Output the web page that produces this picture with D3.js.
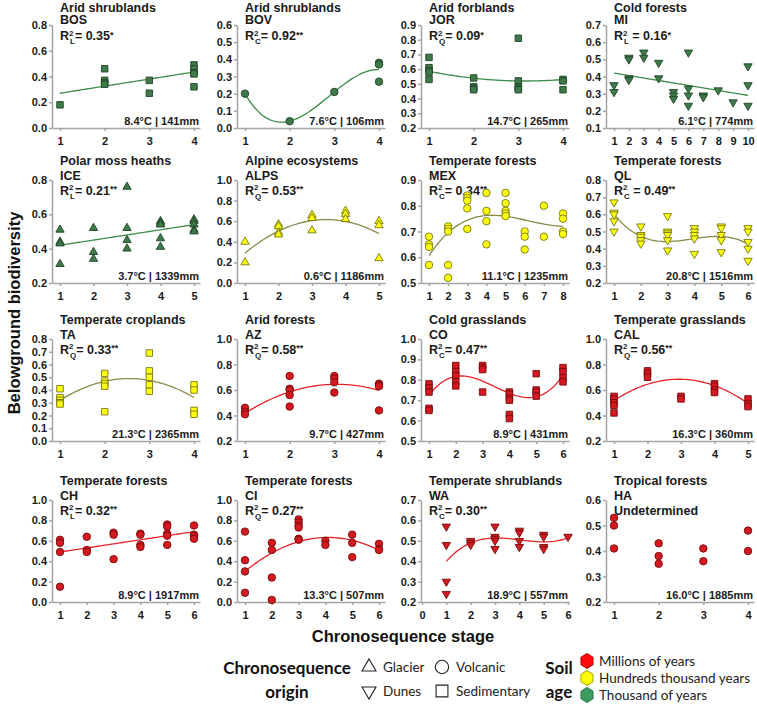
<!DOCTYPE html>
<html><head><meta charset="utf-8">
<script src="https://cdn.jsdelivr.net/npm/d3@7"></script>
<style>
body{margin:0;background:#fff}
svg{display:block}
.ax text{font-family:"Liberation Sans",Arial,sans-serif;font-weight:bold;font-size:11px;fill:#1a1a1a}
.ax path,.ax line{stroke:#a3a3a3;stroke-width:1.5}
.ttl{font-family:"Liberation Sans",Arial,sans-serif;font-weight:bold;font-size:12.5px;fill:#1a1a1a}
.clim{font-family:"Liberation Sans",Arial,sans-serif;font-weight:bold;font-size:11px;fill:#1a1a1a}
.big{font-family:"Liberation Sans",Arial,sans-serif;font-weight:bold;font-size:16.5px;fill:#111}
.lg{font-family:Lato,"Open Sans",sans-serif;font-size:13.5px;fill:#222}
.lgb{font-family:Lato,"Open Sans",sans-serif;font-weight:bold;font-size:17px;fill:#111}
</style>
</head><body>
<svg id="chart" width="757" height="708"></svg>
<script>
// ---------------- DATA ----------------
const panelCodes  = ["BOS","BOV","JOR","MI","ICE","ALPS","MEX","QL","TA","AZ","CO","CAL","CH","CI","WA","HA"];
const panelBiomes = ["Arid shrublands","Arid shrublands","Arid forblands","Cold forests",
  "Polar moss heaths","Alpine ecosystems","Temperate forests","Temperate forests",
  "Temperate croplands","Arid forests","Cold grasslands","Temperate grasslands",
  "Temperate forests","Temperate forests","Temperate shrublands","Tropical forests"];
const panelClimate = ["8.4°C | 141mm","7.6°C | 106mm","14.7°C | 265mm","6.1°C | 774mm",
  "3.7°C | 1339mm","0.6°C | 1186mm","11.1°C | 1235mm","20.8°C | 1516mm",
  "21.3°C | 2365mm","9.7°C | 427mm","8.9°C | 431mm","16.3°C | 360mm",
  "8.9°C | 1917mm","13.3°C | 507mm","18.9°C | 557mm","16.0°C | 1885mm"];
const fitType  = ["L","C","Q","L","L","Q","C","C","Q","Q","C","Q","L","Q","C",null];
const r2Text   = ["= 0.35","= 0.92","= 0.09"," = 0.16","= 0.21","= 0.53","= 0.34"," = 0.49",
  "= 0.33","= 0.58","= 0.47","= 0.56","= 0.32","= 0.27","= 0.30",null];
const r2Stars  = ["*","**","*","*","**","**","**","**","**","**","**","**","**","**","**",null];
const origin   = ["Sedimentary","Volcanic","Sedimentary","Dunes","Glacier","Glacier","Volcanic","Dunes",
  "Sedimentary","Volcanic","Sedimentary","Sedimentary","Volcanic","Volcanic","Dunes","Volcanic"];
const soilAge  = ["Thousand","Thousand","Thousand","Thousand","Thousand","Hundreds","Hundreds","Hundreds",
  "Hundreds","Millions","Millions","Millions","Millions","Millions","Millions","Millions"];

const xTicks = [[1,2,3,4],[1,2,3,4],[1,2,3,4],[1,2,3,4,5,6,7,8,9,10],
  [1,2,3,4,5],[1,2,3,4,5],[1,2,3,4,5,6,7,8],[1,2,3,4,5,6],
  [1,2,3,4],[1,2,3,4],[1,2,3,4,5,6],[1,2,3,4,5],
  [1,2,3,4,5,6],[1,2,3,4,5,6],[0,1,2,3,4,5,6],[1,2,3,4]];
const yTicks = [[0,0.2,0.4,0.6,0.8],[0,0.1,0.2,0.3,0.4,0.5,0.6],[0.2,0.3,0.4,0.5,0.6,0.7,0.8,0.9],[0.1,0.2,0.3,0.4,0.5,0.6,0.7],
  [0.2,0.4,0.6,0.8],[0,0.2,0.4,0.6,0.8,1.0],[0.5,0.6,0.7,0.8,0.9],[0.2,0.3,0.4,0.5,0.6,0.7,0.8],
  [0,0.1,0.2,0.3,0.4,0.5,0.6,0.7,0.8],[0.2,0.4,0.6,0.8,1.0],[0.5,0.6,0.7,0.8,0.9,1.0],[0.2,0.4,0.6,0.8,1.0],
  [0,0.2,0.4,0.6,0.8,1.0],[0,0.2,0.4,0.6,0.8,1.0],[0.2,0.3,0.4,0.5,0.6,0.7],[0.2,0.3,0.4,0.5,0.6]];

// values per chronosequence stage (stage 1, 2, ...)
const valsBOS  = [[0.18],[0.46,0.37,0.35,0.34],[0.37,0.27],[0.49,0.46,0.43,0.42,0.32]];
const valsBOV  = [[0.20],[0.04],[0.21],[0.38,0.37,0.27]];
const valsJOR  = [[0.68,0.61,0.59,0.58,0.53],[0.54,0.48,0.47,0.46],[0.81,0.52,0.48,0.47,0.46],[0.53,0.52,0.46]];
const valsMI   = [[0.35,0.31],[0.51,0.50,0.39,0.38],[0.54,0.51],[0.48,0.39],[0.31,0.29,0.27],
  [0.54,0.33,0.29,0.23],[0.29,0.28],[0.32],[0.25],[0.46,0.35,0.23]];
const valsICE  = [[0.51,0.44,0.43,0.31],[0.52,0.38,0.34],[0.76,0.52,0.45,0.40],[0.56,0.55,0.54,0.46,0.41],[0.57,0.56,0.54,0.51,0.50]];
const valsALPS = [[0.40,0.20],[0.57,0.55,0.49,0.47],[0.66,0.63,0.51],[0.70,0.67,0.62],[0.60,0.56,0.24]];
const valsMEX  = [[0.68,0.65,0.64,0.57],[0.72,0.71,0.70,0.57,0.52],[0.84,0.83,0.82,0.79,0.71],[0.85,0.78,0.74,0.65],
  [0.85,0.81,0.78,0.77,0.76],[0.70,0.68,0.63],[0.80,0.68],[0.77,0.75,0.70,0.69]];
const valsQL   = [[0.67,0.61,0.60,0.56,0.50],[0.53,0.48,0.47,0.45,0.43],[0.59,0.50,0.49,0.48,0.45,0.39],
  [0.52,0.50,0.48,0.46,0.37],[0.53,0.52,0.48,0.45,0.38],[0.52,0.50,0.44,0.40,0.33]];
const valsTA   = [[0.41,0.34,0.32,0.30,0.29],[0.53,0.47,0.45,0.43,0.23],[0.69,0.55,0.50,0.44,0.39],[0.44,0.40,0.24,0.21]];
const valsAZ   = [[0.46,0.43,0.41],[0.71,0.61,0.60,0.56,0.47],[0.71,0.69,0.66,0.58],[0.65,0.64,0.63,0.44]];
const valsCO   = [[0.78,0.76,0.74,0.66,0.65],[0.87,0.84,0.82,0.79,0.77],[0.87,0.86,0.85,0.74],
  [0.74,0.73,0.71,0.70,0.63,0.61],[0.83,0.75,0.74,0.72],[0.86,0.84,0.81,0.79]];
const valsCAL  = [[0.55,0.53,0.50,0.48,0.42],[0.75,0.73,0.70],[0.55,0.53],[0.65,0.63,0.60,0.58],[0.53,0.49,0.47]];
const valsCH   = [[0.61,0.58,0.49,0.15],[0.64,0.51,0.49],[0.68,0.66,0.42],[0.67,0.66,0.56,0.54],
  [0.76,0.74,0.67,0.65,0.56],[0.75,0.66,0.65,0.62]];
const valsCI   = [[0.69,0.41,0.30,0.09],[0.58,0.51,0.24,0.02],[0.81,0.78,0.75,0.73,0.62,0.61],[0.60,0.56],[0.66,0.58,0.44],[0.57,0.52,0.51]];
const valsWA   = [[0.57,0.48,0.30,0.24],[0.50,0.49,0.48],[0.57,0.52,0.51,0.50,0.46],[0.55,0.54,0.50,0.47],[0.53,0.52,0.47,0.46],[0.52]];
const valsHA   = [[0.53,0.50,0.41],[0.43,0.38,0.35],[0.41,0.36],[0.48,0.40]];

// fitted trend: [stage, value]
const trendBOS  = [[1,0.27],[4,0.435]];
const trendBOV  = [[1,0.20],[2,0.04],[3,0.21],[4,0.34]];
const trendJOR  = [[1,0.585],[2,0.54],[3,0.518],[4,0.53]];
const trendMI   = [[1,0.42],[10,0.29]];
const trendICE  = [[1,0.42],[5,0.54]];
const trendALPS = [[1,0.29],[2,0.505],[3,0.607],[4,0.596],[5,0.48]];
const trendMEX  = [[1,0.606],[2,0.695],[3,0.745],[4,0.762],[5,0.758],[6,0.745],[7,0.73],[8,0.72]];
const trendQL   = [[1,0.60],[2,0.475],[3,0.44],[4,0.455],[5,0.475],[6,0.425]];
const trendTA   = [[1,0.32],[2,0.465],[3,0.478],[4,0.34]];
const trendAZ   = [[1,0.42],[2,0.58],[3,0.65],[4,0.595]];
const trendCO   = [[1,0.725],[2,0.812],[3,0.795],[4,0.74],[5,0.71],[6,0.825]];
const trendCAL  = [[1,0.52],[2,0.64],[3,0.68],[4,0.645],[5,0.49]];
const trendCH   = [[1,0.49],[6,0.69]];
const trendCI   = [[1,0.30],[2,0.48],[3,0.591],[4,0.633],[5,0.605],[6,0.508]];
const trendWA   = [[1,0.40],[2,0.488],[3,0.515],[4,0.505],[5,0.494],[6,0.515]];
const trendHA   = [];

const panelValues = [valsBOS,valsBOV,valsJOR,valsMI,valsICE,valsALPS,valsMEX,valsQL,valsTA,valsAZ,valsCO,valsCAL,valsCH,valsCI,valsWA,valsHA];
const panelTrends = [trendBOS,trendBOV,trendJOR,trendMI,trendICE,trendALPS,trendMEX,trendQL,trendTA,trendAZ,trendCO,trendCAL,trendCH,trendCI,trendWA,trendHA];

const legendOrigins = ["Glacier","Volcanic","Dunes","Sedimentary"];
const legendAges = [["Millions","Millions of years"],["Hundreds","Hundreds thousand years"],["Thousand","Thousand of years"]];

// ---------------- STYLE / LAYOUT ----------------
const fillCol  = {Thousand:"#3f7b4a", Hundreds:"#ffff14", Millions:"#d21a20"};
const strokeCol= {Thousand:"#1f4427", Hundreds:"#77770a", Millions:"#780a0a"};
const lineCol  = {Thousand:"#3e8c48", Hundreds:"#8b8b4a", Millions:"#e5242a"};
const hexFill  = {Thousand:"#3c9c5e", Hundreds:"#ffff00", Millions:"#ff0a0a"};
const hexStroke= {Thousand:"#2b7446", Hundreds:"#a0a000", Millions:"#b00000"};

const colX = [52, 237, 421, 606];
const rowTop = [25, 180, 339, 500];
const rowBot = [128, 283, 441, 602];
const W = 148;

const svg = d3.select("#chart");

function shapePath(kind, s){
  if(kind==="Glacier" || kind==="Dunes") return d3.symbol().type(d3.symbolTriangle).size(s)();
  if(kind==="Volcanic") return d3.symbol().type(d3.symbolCircle).size(s)();
  return d3.symbol().type(d3.symbolSquare).size(s)();
}

function polyfit(pts, deg){
  const n = deg+1;
  const A = Array.from({length:n},()=>new Array(n).fill(0));
  const b = new Array(n).fill(0);
  pts.forEach(([x,y])=>{
    for(let i=0;i<n;i++){
      b[i]+=y*Math.pow(x,i);
      for(let j=0;j<n;j++) A[i][j]+=Math.pow(x,i+j);
    }
  });
  for(let c=0;c<n;c++){
    let p=c; for(let r=c+1;r<n;r++) if(Math.abs(A[r][c])>Math.abs(A[p][c])) p=r;
    [A[c],A[p]]=[A[p],A[c]]; [b[c],b[p]]=[b[p],b[c]];
    for(let r=c+1;r<n;r++){ const f=A[r][c]/A[c][c]; for(let k=c;k<n;k++) A[r][k]-=f*A[c][k]; b[r]-=f*b[c]; }
  }
  const co=new Array(n).fill(0);
  for(let r=n-1;r>=0;r--){ let s=b[r]; for(let k=r+1;k<n;k++) s-=A[r][k]*co[k]; co[r]=s/A[r][r]; }
  return x=>co.reduce((acc,c,i)=>acc+c*Math.pow(x,i),0);
}
const degOf = {L:1,Q:2,C:3};

panelCodes.forEach((code,i)=>{
  const col=i%4, row=Math.floor(i/4);
  const x0=colX[col], top=rowTop[row], bot=rowBot[row];
  const g=svg.append("g").attr("transform",`translate(${x0},0)`);
  const xt=xTicks[i], yt=yTicks[i];
  const a = xt[0]===0 ? 1 : 8, b = xt[0]===0 ? 147 : 142;
  const unit=(b-a)/(xt[xt.length-1]-xt[0]);
  const x=d3.scaleLinear().domain([xt[0]-a/unit, xt[xt.length-1]+(W-b)/unit]).range([0,W]);
  const y=d3.scaleLinear().domain([yt[0], yt[yt.length-1]]).range([bot, top]);

  g.append("g").attr("class","ax").attr("transform",`translate(0,${bot})`)
    .call(d3.axisBottom(x).tickValues(xt).tickFormat(d3.format("d")).tickSize(3).tickSizeOuter(0).tickPadding(6));
  g.append("g").attr("class","ax")
    .call(d3.axisLeft(y).tickValues(yt).tickFormat(d3.format(".1f")).tickSize(3).tickSizeOuter(0).tickPadding(2));

  // titles
  const first = row===0;
  const yT1 = first ? top-13.5 : top-15;
  const yT2 = first ? top-1 : top-0.5;
  const yT3 = first ? top+15 : top+14.5;
  g.append("text").attr("class","ttl").attr("x",8).attr("y",yT1).text(panelBiomes[i]);
  g.append("text").attr("class","ttl").attr("x",8).attr("y",yT2).text(code);
  if(fitType[i]){
    const t=g.append("text").attr("class","ttl").attr("x",8).attr("y",yT3);
    t.append("tspan").text("R");
    t.append("tspan").attr("dy",-4.5).attr("font-size",8).text("2");
    t.append("tspan").attr("dx",-3.5).attr("dy",8.5).attr("font-size",8).text(fitType[i]);
    t.append("tspan").attr("dy",-4).text(r2Text[i]);
    t.append("tspan").attr("dy",-2.5).attr("font-size",9).text(r2Stars[i]);
  } else {
    g.append("text").attr("class","ttl").attr("x",8).attr("y",yT3).text("Undetermined");
  }
  g.append("text").attr("class","clim").attr("x",W-1).attr("y",bot-3).attr("text-anchor","end").text(panelClimate[i]);

  // trend
  const tr=panelTrends[i];
  if(tr.length){
    const f=polyfit(tr, degOf[fitType[i]]);
    const xs=d3.range(0,61).map(k=>tr[0][0]+(tr[tr.length-1][0]-tr[0][0])*k/60);
    g.append("path").attr("fill","none").attr("stroke",lineCol[soilAge[i]]).attr("stroke-width",1.3)
      .attr("d",d3.line().x(d=>x(d)).y(d=>y(f(d)))(xs));
  }

  // points
  const pts=[];
  panelValues[i].forEach((vals,s)=>vals.forEach(v=>pts.push([s+1,v])));
  const kind=origin[i];
  const size = kind==="Volcanic"?44: kind==="Sedimentary"?42:30;
  const rot = kind==="Dunes"?180:0;
  g.selectAll("path.pt").data(pts).enter().append("path").attr("class","pt")
    .attr("d",shapePath(kind,size))
    .attr("transform",d=>`translate(${x(d[0])},${y(d[1])}) rotate(${rot})`)
    .attr("fill",fillCol[soilAge[i]]).attr("stroke",strokeCol[soilAge[i]]).attr("stroke-width",0.9);
});

// axis titles
svg.append("text").attr("class","big").attr("transform","translate(20,313) rotate(-90)")
  .attr("text-anchor","middle").text("Belowground biodiversity");
svg.append("text").attr("class","big").attr("x",403).attr("y",642)
  .attr("text-anchor","middle").text("Chronosequence stage");

// legend
const L=svg.append("g");
L.append("text").attr("class","lgb").attr("x",287).attr("y",674).attr("text-anchor","middle").text("Chronosequence");
L.append("text").attr("class","lgb").attr("x",287).attr("y",698).attr("text-anchor","middle").text("origin");
const oPos = {Glacier:[369,667],Volcanic:[442,667],Dunes:[369,691],Sedimentary:[442,691]};
legendOrigins.forEach(o=>{
  const [px,py]=oPos[o];
  const s = (o==="Glacier"||o==="Dunes") ? 85 : 140;
  L.append("path").attr("d",shapePath(o, s))
    .attr("transform",`translate(${px},${py}) rotate(${o==="Dunes"?180:0})`)
    .attr("fill","none").attr("stroke","#222").attr("stroke-width",1.1);
  L.append("text").attr("class","lg").attr("x",px+14).attr("y",py+5).text(o);
});
L.append("text").attr("class","lgb").attr("x",559).attr("y",674).attr("text-anchor","middle").text("Soil");
L.append("text").attr("class","lgb").attr("x",559).attr("y",698).attr("text-anchor","middle").text("age");
const hex = d3.range(6).map(k=>{const an=Math.PI/180*(60*k-90);return [7*Math.cos(an),7.5*Math.sin(an)];});
legendAges.forEach(([key,label],k)=>{
  const py=661+k*17;
  L.append("path").attr("d",d3.line()(hex)+"Z").attr("transform",`translate(587,${py})`)
    .attr("fill",hexFill[key]).attr("stroke",hexStroke[key]).attr("stroke-width",1);
  L.append("text").attr("class","lg").attr("x",599).attr("y",py+5).text(label);
});
</script>
</body></html>
